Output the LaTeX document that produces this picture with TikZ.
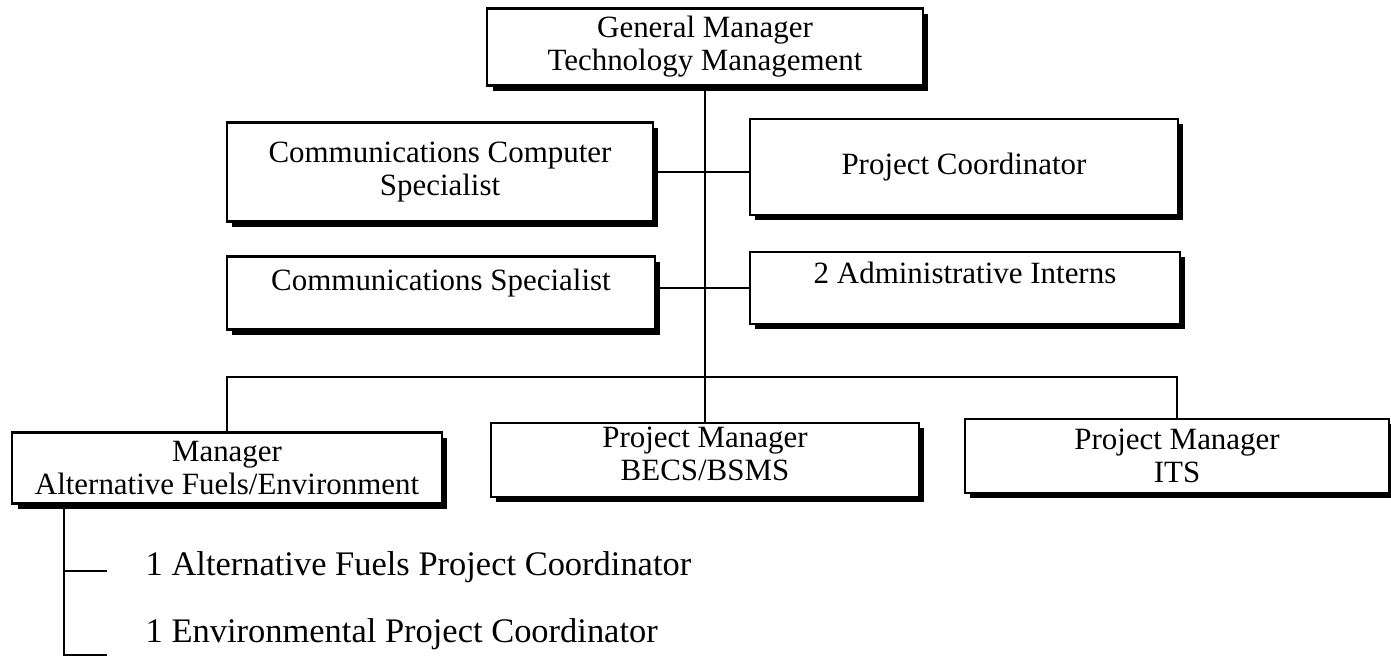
\documentclass[tikz,border=0pt]{standalone}
\usepackage{fontspec}
\setmainfont{Liberation Serif}
\usetikzlibrary{shadows}
\begin{document}
\begin{tikzpicture}[x=0.01cm, y=-0.01cm, every node/.style={font=\fontsize{8.8}{9.4}\selectfont},
  box/.style={draw,line width=0.6pt,fill=white,align=center,inner sep=0pt,
    drop shadow={shadow xshift=1.5pt,shadow yshift=-1.5pt,fill=black,opacity=1}},
  item/.style={anchor=west,inner sep=0pt,font=\fontsize{9.8}{11}\selectfont}]
  \useasboundingbox (0,0) rectangle (1391,664);
  \node[box,minimum width=4.35cm,minimum height=0.77cm] (gm) at (705,47) {General Manager\\Technology Management};
  % staff boxes
  \node[box,minimum width=4.26cm,minimum height=0.99cm] (ccs) at (440,172) {Communications Computer\\Specialist};
  \node[box,minimum width=4.28cm,minimum height=0.96cm] (pc) at (964,167) {Project Coordinator};
  \node[box,minimum width=4.28cm,minimum height=0.73cm,text depth=0.27cm] (cs) at (441,293) {Communications Specialist};
  \node[box,minimum width=4.30cm,minimum height=0.72cm,text depth=0.3cm] (ai) at (965,288) {2 Administrative Interns};
  \draw[line width=0.6pt] (ccs.east) -- (ccs.east -| pc.west);
  \draw[line width=0.6pt] (ai.west -| cs.east) -- (ai.west);
  % line managers
  \node[box,minimum width=4.29cm,minimum height=0.71cm] (mgr) at (227,468) {Manager\\Alternative Fuels/Environment};
  \node[box,minimum width=4.28cm,minimum height=0.74cm,text depth=0.12cm] (becs) at (705,460) {Project Manager\\BECS/BSMS};
  \node[box,minimum width=4.24cm,minimum height=0.74cm] (its) at (1177,456) {Project Manager\\ITS};
  \coordinate (bus) at (705,377);
  \draw[line width=0.6pt] (gm.south) -- (becs.north);
  \draw[line width=0.6pt] (mgr.north) |- (bus) -| (its.north);
  % coordinators under mgr
  \node[item] (afc) at (145,567) {1 Alternative Fuels Project Coordinator};
  \node[item] (epc) at (145,634) {1 Environmental Project Coordinator};
  \coordinate (b1) at (107,571);
  \coordinate (b2) at (107,655);
  \draw[line width=0.6pt] (mgr.south west) ++(53,0) coordinate (trunk) |- (b2);
  \draw[line width=0.6pt] (b1) -- (b1 -| trunk);
\end{tikzpicture}
\end{document}
